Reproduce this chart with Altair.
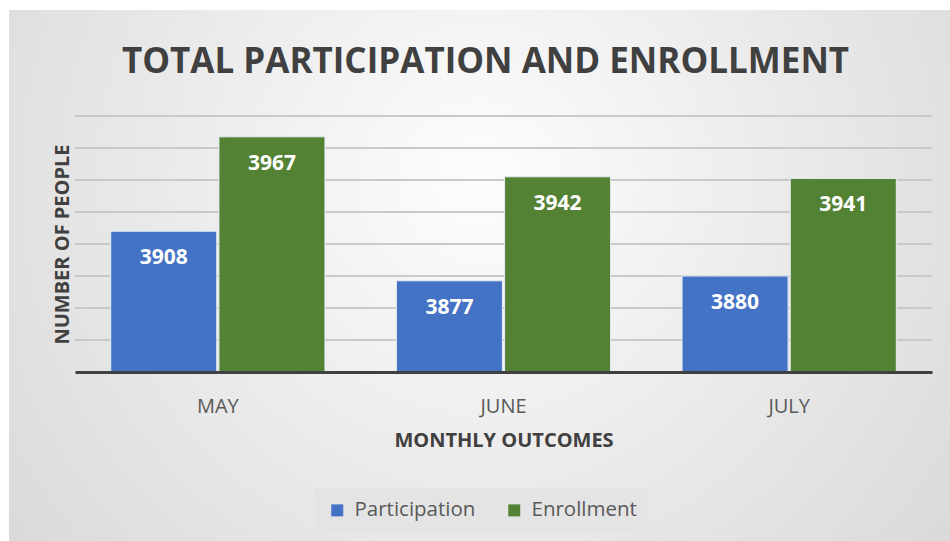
import altair as alt
import pandas as pd

months = ["MAY", "JUNE", "JULY"]
series = ["Participation", "Enrollment"]
participation = [3908, 3877, 3880]
enrollment = [3967, 3942, 3941]
colors = ["#4472C4", "#548235"]
grid_ticks = [3840, 3860, 3880, 3900, 3920, 3940, 3960, 3980]

rows = []
for i, m in enumerate(months):
    rows.append({"month": m, "series": series[0], "value": participation[i]})
    rows.append({"month": m, "series": series[1], "value": enrollment[i]})
df = pd.DataFrame(rows)
grid_df = pd.DataFrame({"tick": grid_ticks})

FONT = "Open Sans"
W, H = 857, 256
y_scale = alt.Scale(domain=[3820, 3980], zero=False, nice=False)
y_axis = alt.Axis(title="NUMBER OF PEOPLE", labels=False, ticks=False,
                  domain=False, grid=False, zindex=1,
                  titleFont=FONT, titleFontSize=20, titleFontWeight="bold",
                  titleColor="#404040", titlePadding=3)

bg = alt.Chart(pd.DataFrame({"a": [0]})).mark_rect(
    color=alt.Gradient(
        gradient="radial",
        stops=[alt.GradientStop(color="#fdfdfd", offset=0),
               alt.GradientStop(color="#d3d3d3", offset=1)],
        x1=0.5, y1=0.4, x2=0.5, y2=0.4, r1=0, r2=0.75,
    )
).encode(
    x=alt.value(-66), x2=alt.value(875), y=alt.value(-106), y2=alt.value(425)
)

grid = alt.Chart(grid_df).mark_rule(color="#c9c9c9", strokeWidth=2).encode(
    y=alt.Y("tick:Q", scale=y_scale, axis=y_axis),
    x=alt.value(0), x2=alt.value(W)
)

x_enc = alt.X("month:N", sort=months,
              scale=alt.Scale(paddingInner=0.25, paddingOuter=0.125),
              axis=alt.Axis(title="MONTHLY OUTCOMES", labelFontSize=20, labelColor="#595959",
                            labelFont=FONT, labelPadding=24, labelAngle=0, ticks=False,
                            domainColor="#404040", domainWidth=3, zindex=1,
                            titleFont=FONT, titleFontSize=20, titleFontWeight="bold",
                            titleColor="#404040", titlePadding=14, grid=False))
xo_enc = alt.XOffset("series:N", sort=series, scale=alt.Scale(paddingInner=0.02))

bars = alt.Chart(df).mark_bar(stroke="#e8eef6", strokeWidth=1, clip=True).encode(
    x=x_enc, xOffset=xo_enc,
    y=alt.Y("value:Q", scale=y_scale, axis=y_axis),
    color=alt.Color("series:N", sort=series,
                    scale=alt.Scale(domain=series, range=colors),
                    legend=alt.Legend(title=None, orient="none", legendX=240, legendY=372,
                                      direction="horizontal", symbolType="square",
                                      symbolSize=144, labelFontSize=20.5, labelFont=FONT,
                                      labelColor="#595959", fillColor="#e4e4e4",
                                      padding=12, columnPadding=28, symbolStrokeWidth=0,
                                      labelOffset=7, zindex=1))
)

labels = alt.Chart(df).mark_text(color="white", font=FONT, fontWeight="bold", fontSize=21,
                                 dy=27, baseline="middle").encode(
    x=alt.X("month:N", sort=months), xOffset=alt.XOffset("series:N", sort=series),
    y="value:Q", text="value:Q"
)

chart = alt.layer(bg, grid, bars, labels).properties(
    width=W, height=H,
    title=alt.Title("TOTAL PARTICIPATION AND ENROLLMENT", font=FONT, fontSize=35,
                    fontWeight="bold", color="#404040", offset=-70, dx=-18, zindex=1,
                    frame="group"),
    autosize=alt.AutoSizeParams(type="none"),
    padding={"left": 75, "top": 116, "right": 18, "bottom": 169},
    background="white",
).configure_view(stroke=None)

chart.save("out.html", embed_options={"renderer": "svg", "actions": False})
